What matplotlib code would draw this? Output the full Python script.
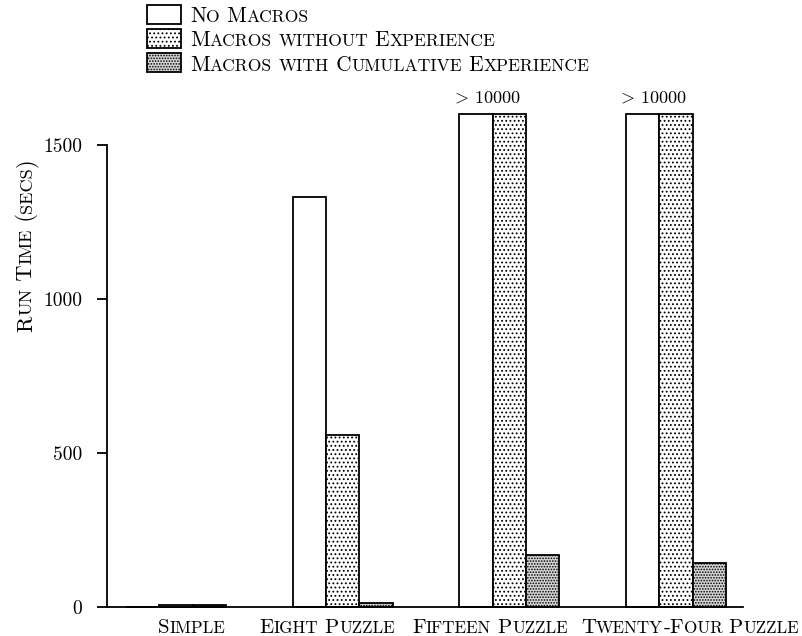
import matplotlib
matplotlib.use("Agg")
import numpy as np
import matplotlib.pyplot as plt
from matplotlib import transforms
from matplotlib.font_manager import FontProperties
from matplotlib.patches import Rectangle
from matplotlib.textpath import TextPath

plt.rcParams['font.family'] = ['cmr10', 'DejaVu Serif']
plt.rcParams['mathtext.fontset'] = 'cm'
plt.rcParams['axes.formatter.use_mathtext'] = True
plt.rcParams['hatch.linewidth'] = 0.8

categories = ["Simple", "Eight Puzzle", "Fifteen Puzzle", "Twenty-Four Puzzle"]
series_names = ["No Macros", "Macros without Experience",
                "Macros with Cumulative Experience"]
no_macros = [0, 1331, 1600, 1600]          # 1600 = drawn cap for "> 10000"
macros_no_exp = [7, 558, 1600, 1600]
macros_cum_exp = [5, 14, 169, 143]
over_labels = ["", "", "> 10000", "> 10000"]
yticks = [0, 500, 1000, 1500]

DPI = 100
SC = 0.82  # small caps scale
W, H = 803, 636

fig = plt.figure(figsize=(W / DPI, H / DPI), dpi=DPI)
ax = fig.add_axes([107 / W, (H - 607) / H, 636 / W, 493 / H])


def run_width(s, fp):
    # advance width of s in pixels, measured between two sentinels
    a = TextPath((0, 0), "I" + s + "I", prop=fp).get_extents().width
    b = TextPath((0, 0), "II", prop=fp).get_extents().width
    return (a - b) * DPI / 72.0


def small_caps(x, y, text, size, transform, ha="left", rotation=0):
    runs = []
    for ch in text:
        big = not ch.islower()
        if runs and runs[-1][1] == big:
            runs[-1][0] += ch.upper()
        else:
            runs.append([ch.upper(), big])
    props = [FontProperties(family="cmr10", size=size if big else size * SC)
             for _, big in runs]
    widths = [run_width(s, fp) for (s, _), fp in zip(runs, props)]
    pos = 0 if ha == "left" else -sum(widths) / 2
    for (s, _), fp, w in zip(runs, props, widths):
        dx, dy = (0, pos) if rotation == 90 else (pos, 0)
        tr = transforms.offset_copy(transform, fig=fig, x=dx, y=dy, units="dots")
        fig.text(x, y, s, fontproperties=fp, transform=tr, rotation=rotation,
                 rotation_mode="anchor", ha="left", va="baseline")
        pos += w


x = np.arange(len(categories))
w = 0.2
styles = [dict(facecolor="white"),
          dict(facecolor="white", hatch="...."),
          dict(facecolor="#d6d6d6", hatch="......")]
series = [no_macros, macros_no_exp, macros_cum_exp]
for j, vals in enumerate(series):
    ax.bar(x + (j - 1) * w, vals, w, edgecolor="black", linewidth=1.3,
           clip_on=False, **styles[j])

# "> 10000" above the capped bars
for i, lab in enumerate(over_labels):
    if lab:
        ax.text(x[i] - w + 0.055, 1636, "$>\\,$" + lab[2:], fontsize=13,
                ha="center", va="baseline", clip_on=False)

ax.set_xlim(-0.414, 3.401)
ax.set_ylim(0, 1600)
ax.set_yticks(yticks)
ax.set_yticklabels([str(t) for t in yticks])
ax.tick_params(axis="y", length=7.2, width=1.3, pad=10.8, labelsize=14)
ax.tick_params(axis="x", length=0, labelbottom=False)
ax.spines["top"].set_visible(False)
ax.spines["right"].set_visible(False)
ax.spines["left"].set_bounds(0, 1500)
for sp in ("left", "bottom"):
    ax.spines[sp].set_linewidth(1.3)

# category labels (small caps), x in data units, y in pixels
label_x = [0.096, 0.906, 1.884, 2.43]
label_ha = ["center", "center", "center", "left"]
bt = transforms.blended_transform_factory(ax.transData, transforms.IdentityTransform())
for cat, lx, ha in zip(categories, label_x, label_ha):
    small_caps(lx, H - 633, cat, 15.0, bt, ha=ha)

# y label
small_caps(32, H - 245, "Run Time (secs)", 16, transforms.IdentityTransform(),
           ha="center", rotation=90)

# legend
ident = transforms.IdentityTransform()
for k, name in enumerate(series_names):
    top = 5 + 24 * k
    fig.add_artist(Rectangle((147, H - top - 19), 34, 19, transform=ident,
                             edgecolor="black", linewidth=1.3, **styles[k]))
    small_caps(190, H - (22 + 24.5 * k), name, 15.4, ident)

fig.savefig("out.png", dpi=DPI)
